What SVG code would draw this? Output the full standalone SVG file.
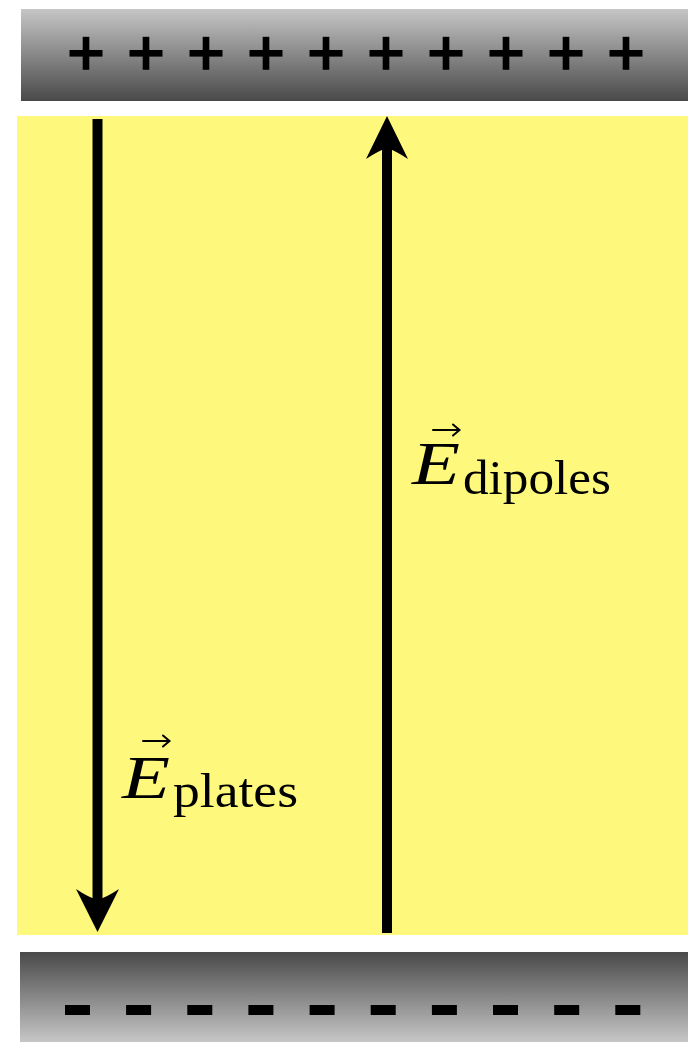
<svg xmlns="http://www.w3.org/2000/svg" width="688" height="1042" viewBox="0 0 688 1042">
<defs>
<linearGradient id="gTop" x1="0" y1="0" x2="0" y2="1">
<stop offset="0" stop-color="#c6c6c6"/><stop offset="1" stop-color="#494949"/>
</linearGradient>
<linearGradient id="gBot" x1="0" y1="0" x2="0" y2="1">
<stop offset="0" stop-color="#494949"/><stop offset="1" stop-color="#c6c6c6"/>
</linearGradient>
<g id="plus"><rect x="-16.5" y="-3.3" width="33" height="6.6"/><rect x="-3.3" y="-16.5" width="6.6" height="33"/></g>
<rect id="minus" x="-12.5" y="-5" width="25" height="10"/>
</defs>
<style>
.lbl{font-family:"Liberation Serif","DejaVu Serif",serif;fill:#000}
.it{font-style:italic}
.arr{fill:#000}
.vec{stroke:#000;stroke-width:2;fill:none;stroke-linecap:round}
</style>
<rect width="688" height="1042" fill="#fff"/>
<g id="dielectric"><rect x="17" y="116" width="671" height="819" fill="#fef97d"/></g>
<g id="topPlate">
<rect x="21" y="9" width="667" height="92" fill="url(#gTop)"/>
<use href="#plus" x="86" y="53.3"/><use href="#plus" x="146" y="53.3"/><use href="#plus" x="206" y="53.3"/><use href="#plus" x="266" y="53.3"/><use href="#plus" x="326" y="53.3"/><use href="#plus" x="386" y="53.3"/><use href="#plus" x="446" y="53.3"/><use href="#plus" x="506" y="53.3"/><use href="#plus" x="566" y="53.3"/><use href="#plus" x="626" y="53.3"/>
</g>
<g id="bottomPlate">
<rect x="20" y="952" width="668" height="90" fill="url(#gBot)"/>
<use href="#minus" x="77.5" y="1010"/><use href="#minus" x="138.6" y="1010"/><use href="#minus" x="199.8" y="1010"/><use href="#minus" x="260.9" y="1010"/><use href="#minus" x="322.1" y="1010"/><use href="#minus" x="383.2" y="1010"/><use href="#minus" x="444.4" y="1010"/><use href="#minus" x="505.5" y="1010"/><use href="#minus" x="566.7" y="1010"/><use href="#minus" x="627.8" y="1010"/>
</g>
<g id="connectors">
<g id="Eplates">
<rect class="arr" x="92.5" y="119" width="10" height="783"/>
<path class="arr" d="M97.5,932 L76,889 Q88,897 97.5,900 Q107,897 119,889 Z"/>
</g>
<g id="Edipoles">
<rect class="arr" x="382" y="146" width="10" height="787"/>
<path class="arr" d="M387,116 L366,159 Q378,151 387,148 Q396,151 408,159 Z"/>
</g>
</g>
<g id="labelDipoles">
<text class="lbl it" x="412" y="484" font-size="61" textLength="48" lengthAdjust="spacingAndGlyphs">E</text>
<path class="vec" d="M433,430 H459 M453,424.5 L459.5,430 L453,435.5"/>
<text class="lbl" x="463" y="494" font-size="48" textLength="148" lengthAdjust="spacingAndGlyphs">dipoles</text>
</g>
<g id="labelPlates">
<text class="lbl it" x="122" y="798" font-size="61" textLength="48" lengthAdjust="spacingAndGlyphs">E</text>
<path class="vec" d="M143,741 H169 M163,735.5 L169.5,741 L163,746.5"/>
<text class="lbl" x="173" y="807" font-size="48" textLength="125" lengthAdjust="spacingAndGlyphs">plates</text>
</g>
</svg>
